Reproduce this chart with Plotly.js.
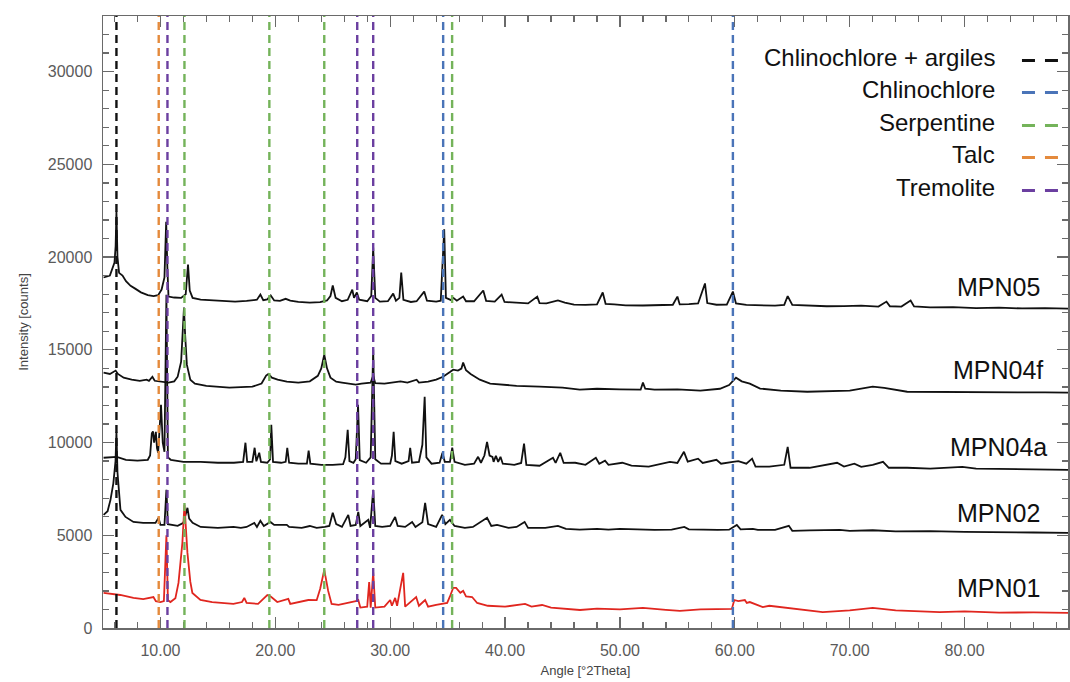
<!DOCTYPE html>
<html>
<head>
<meta charset="utf-8">
<script src="https://cdn.plot.ly/plotly-3.0.1.min.js"></script>
<style>html,body{margin:0;padding:0;background:#fff;}#chart{width:1070px;height:682px;}</style>
</head>
<body>
<div id="chart"></div>
<script>
// ---- data (angle in °2Theta, intensity in counts) ----
const sampleNames = ['MPN05', 'MPN04f', 'MPN04a', 'MPN02', 'MPN01'];

const mpn05X = [5.05,5.6,6.0,6.1,6.17,6.26,6.4,6.7,7.0,7.4,7.8,8.3,8.9,9.4,9.8,10.1,10.35,10.5,10.6,10.7,11.2,11.8,12.2,12.4,12.55,12.8,13.5,14.5,15.5,16.5,17.5,18.4,18.7,18.95,19.3,19.6,19.9,20.4,20.9,21.3,22.0,23.0,23.9,24.5,24.8,25.0,25.25,25.8,26.3,26.7,26.85,27.1,27.3,28.0,28.35,28.52,28.7,29.1,29.8,30.26,30.5,30.8,30.96,31.15,31.8,32.3,32.96,33.2,34.0,34.4,34.7,34.85,35.3,35.5,35.8,36.35,36.6,37.3,38.1,38.35,39.1,39.7,39.95,40.6,41.5,42.0,42.8,43.0,43.6,44.6,45.2,46.0,47.0,48.0,48.5,48.75,49.5,50.5,52.0,53.5,54.6,55.0,55.2,56.0,56.8,57.4,57.6,58.4,59.3,59.83,60.1,61.0,62.0,63.5,64.3,64.6,65.0,66.5,68.0,69.5,71.0,72.5,73.2,73.5,74.5,75.3,75.6,77.0,79.0,81.0,83.0,85.0,87.0,89.1];
const mpn05Y = [18900,19000,19700,20600,22460,20000,19150,19000,18700,18450,18300,18100,17950,17900,17950,18250,18900,21900,19500,17870,17820,17800,18000,19600,18200,17800,17710,17660,17620,17600,17640,17700,17980,17680,17720,17930,17660,17640,17750,17650,17580,17550,17570,17660,17900,18470,17800,17620,17700,18240,17800,18090,17700,17620,17900,20520,17800,17600,17620,18030,17650,17800,19170,17700,17580,17620,18140,17650,17600,17650,21500,17800,17680,17800,17650,17870,17620,17620,18200,17640,17600,17980,17580,17560,17550,17500,17870,17520,17500,17660,17550,17440,17420,17450,18090,17480,17450,17400,17390,17420,17430,17870,17450,17460,17500,18580,17520,17430,17440,18140,17500,17420,17400,17380,17420,17900,17420,17370,17350,17360,17380,17330,17600,17350,17330,17660,17340,17290,17300,17250,17270,17230,17250,17220];

const mpn04fX = [5.05,5.6,6.1,6.3,6.8,7.5,8.2,8.8,9.0,9.3,9.5,10.0,10.7,11.2,11.5,11.8,11.95,12.05,12.15,12.3,12.6,13.0,14.0,15.0,16.0,17.0,18.0,18.8,19.2,19.4,19.7,20.2,21.0,22.0,23.0,23.7,24.0,24.26,24.5,24.8,25.3,25.8,26.3,27.0,27.5,28.3,28.52,28.7,29.5,30.2,30.9,31.5,32.3,32.5,33.3,34.0,34.6,35.2,35.48,35.9,36.2,36.35,36.6,37.0,37.8,38.7,39.6,41.0,43.0,45.0,46.5,48.0,50.0,51.8,52.0,52.2,53.0,55.0,57.0,58.7,59.5,60.1,60.6,61.3,62.2,64.0,66.3,68.0,70.0,72.0,73.0,75.0,78.0,81.0,84.0,87.0,89.1];
const mpn04fY = [13770,13700,13880,13700,13500,13390,13330,13390,13330,13550,13330,13280,13230,13300,13550,14360,15800,17280,15800,14200,13390,13180,13060,13010,12960,12990,13010,13180,13610,13700,13500,13390,13280,13230,13300,13600,14000,14740,14000,13500,13280,13230,13180,13120,13180,13230,13600,13200,13180,13230,13300,13230,13390,13230,13280,13390,13550,13800,13930,13880,13990,14310,13900,13700,13390,13180,13120,13060,13010,12960,12850,12900,12870,12850,13230,12900,12850,12870,12800,12900,13100,13500,13300,13180,12910,12800,12740,12760,12800,13010,12950,12740,12720,12700,12690,12700,12690];

const mpn04aX = [5.05,5.6,6.2,7.0,8.0,8.9,9.1,9.25,9.35,9.45,9.6,9.7,9.8,9.95,10.05,10.2,10.35,10.52,10.65,10.9,12.0,13.5,15.0,16.4,17.2,17.4,17.55,18.0,18.2,18.35,18.6,18.75,19.3,19.55,19.65,19.8,20.5,20.9,21.04,21.2,22.0,22.75,22.9,23.05,24.0,25.0,25.9,26.1,26.3,26.45,26.8,27.0,27.2,27.35,27.9,28.3,28.52,28.7,29.2,30.0,30.15,30.3,30.45,31.0,31.6,31.74,31.9,32.5,32.8,33.0,33.15,33.6,34.3,34.55,34.75,35.2,35.4,35.6,36.5,37.3,37.65,37.9,38.2,38.43,38.65,38.9,39.0,39.2,39.4,39.6,39.8,40.8,41.4,41.65,41.85,43.0,44.17,44.4,44.8,45.1,46.1,47.0,47.9,48.2,48.7,49.0,50.2,51.0,52.5,54.35,55.0,55.57,55.9,56.8,57.2,58.4,58.8,59.83,60.3,61.0,61.5,61.8,63.0,64.3,64.6,64.85,66.5,68.9,69.5,70.4,71.0,72.0,72.9,73.4,75.0,77.0,79.8,81.0,84.0,87.0,89.1];
const mpn04aY = [9180,9200,9230,9070,9020,9070,9300,10500,10600,10000,10580,9700,9450,11000,12040,10000,9500,17970,9200,9070,8960,8960,8910,8910,8960,9990,8960,8960,9720,8990,9450,8960,8910,9100,10960,8960,8910,8960,9720,8910,8860,8860,9560,8860,8800,8800,8830,9200,10690,9000,8910,9100,12040,9050,8910,9200,15010,9100,8860,8860,9300,10580,9000,8860,9000,9720,8910,8960,9880,12470,9200,8860,8910,9450,8960,8960,9720,8960,8800,8860,9230,8910,9300,10040,9300,9230,8960,9280,8960,9230,8860,8800,8900,9940,8800,8750,9180,8900,9450,8900,8910,8800,9180,8860,9020,8800,8910,8750,8700,8960,8900,9500,8970,9130,8900,9070,8860,8960,9000,8860,9130,8700,8700,8800,9770,8640,8640,8910,8700,8860,8690,8800,8960,8640,8640,8590,8690,8590,8560,8530,8530];

const mpn02X = [5.05,5.4,5.65,5.9,6.09,6.17,6.26,6.4,6.52,6.96,7.65,8.5,9.57,9.83,10.0,10.35,10.52,10.65,11.0,11.5,12.0,12.35,12.5,12.8,13.5,15.0,16.35,17.0,17.5,18.17,18.4,18.7,19.0,19.57,19.9,21.0,21.2,22.3,23.0,23.6,24.3,24.7,25.0,25.3,25.8,26.35,26.55,27.0,27.22,27.4,28.09,28.25,28.52,28.7,29.3,30.0,30.43,30.65,31.3,31.91,32.2,32.8,33.04,33.3,34.0,34.52,34.8,35.2,35.6,36.5,37.2,37.8,38.43,38.8,39.3,40.3,41.0,41.7,42.0,43.5,44.6,45.3,46.5,48.0,49.0,50.0,51.5,53.0,54.5,55.6,56.0,57.0,58.5,59.5,60.17,60.5,61.57,62.0,63.5,64.7,65.0,66.5,69.13,70.0,72.0,74.0,77.0,80.0,83.0,86.0,89.1];
const mpn02Y = [6100,6300,6910,7800,9000,10580,8400,7000,6370,5990,5720,5670,5670,5940,5560,5560,7450,5600,5560,5510,5670,6480,5900,5670,5450,5400,5450,5400,5450,5670,5450,5780,5500,5720,5560,5560,5450,5400,5500,5400,5450,5500,6210,5600,5450,6100,5500,5560,6260,5500,5830,5400,7450,5500,5450,5500,5990,5500,5450,5720,5450,5700,6750,5600,5450,6100,5600,5830,5500,5400,5450,5700,5940,5500,5560,5400,5450,5720,5400,5400,5510,5350,5300,5350,5300,5350,5300,5290,5300,5450,5320,5300,5290,5300,5560,5320,5350,5290,5290,5510,5240,5260,5290,5240,5270,5210,5220,5180,5150,5150,5130];

const mpn01X = [5.05,5.6,6.5,7.65,8.5,9.39,9.6,10.0,10.3,10.52,10.65,10.87,11.3,11.57,11.91,12.09,12.35,12.6,12.78,13.48,14.5,16.35,17.1,17.3,17.5,18.5,19.3,19.6,20.17,21.13,21.3,22.87,23.6,23.9,24.26,24.6,24.9,25.5,26.35,27.0,27.22,27.4,28.0,28.17,28.3,28.52,28.7,29.5,30.0,30.15,30.43,30.6,31.13,31.3,32.26,32.5,33.04,33.3,34.0,34.96,35.2,35.48,35.74,35.91,36.1,36.35,36.6,37.13,37.57,38.5,40.0,41.74,42.3,43.22,44.0,46.52,48.0,50.0,52.0,54.0,55.22,57.0,59.74,59.95,60.3,60.87,61.04,61.3,62.43,63.0,64.78,66.0,67.65,70.0,72.0,74.0,77.83,80.0,83.0,86.0,89.1];
const mpn01Y = [1890,1840,1780,1620,1560,1670,1450,1400,1450,5000,1500,1400,1600,2430,4590,6640,4050,2500,1890,1510,1400,1300,1400,1620,1350,1300,1780,1700,1400,1570,1300,1510,1500,2100,3130,2000,1300,1250,1350,1450,1510,1100,1150,2480,1100,3000,1100,1150,1510,1200,1620,1200,2970,1150,1670,1200,1510,1150,1250,1350,1700,2160,2160,2050,1900,2000,1700,1670,1350,1200,1150,1300,1150,1240,1100,970,1050,1000,1080,980,920,1000,1030,1510,1450,1510,1350,1400,1130,1200,1080,1000,860,950,1080,950,860,900,830,840,810];

// reference lines (°2Theta)
const phaseNames = ['Chlinochlore + argiles', 'Chlinochlore', 'Serpentine', 'Talc', 'Tremolite'];
const chlinoArgilesLines = [6.17];
const chlinochloreLines = [34.61, 59.83];
const serpentineLines = [12.09, 19.48, 24.26, 35.39];
const talcLines = [9.85];
const tremoliteLines = [10.61, 27.13, 28.52];

// ---- styling ----
const phaseColors = ['#111111', '#4a74b8', '#74b35a', '#e48a3c', '#6b3fa0'];
const phaseLines = [chlinoArgilesLines, chlinochloreLines, serpentineLines, talcLines, tremoliteLines];

const traceColors = ['#111111', '#111111', '#111111', '#111111', '#e0261f'];
const seriesX = [mpn05X, mpn04fX, mpn04aX, mpn02X, mpn01X];
const seriesY = [mpn05Y, mpn04fY, mpn04aY, mpn02Y, mpn01Y];

const traces = seriesX.map((xs, i) => ({
  type: 'scatter', mode: 'lines', x: xs, y: seriesY[i], name: sampleNames[i],
  line: {color: traceColors[i], width: 1.8}, hoverinfo: 'skip'
}));

const shapes = [];
phaseLines.forEach((arr, i) => {
  arr.forEach(v => shapes.push({
    type: 'line', xref: 'x', yref: 'paper', x0: v, x1: v, y0: 0, y1: 1, layer: 'above',
    line: {color: phaseColors[i], width: 2.4, dash: '8px,5px'}
  }));
});

const annotations = [];
const legendYs = [0.9314, 0.8791, 0.8252, 0.7729, 0.7190];
phaseNames.forEach((n, i) => {
  annotations.push({xref: 'paper', yref: 'paper', x: 0.9264, y: legendYs[i], xanchor: 'right', yanchor: 'middle',
    text: n, showarrow: false, font: {family: 'Liberation Sans, Arial, sans-serif', size: 24, color: '#111'}});
  shapes.push({type: 'line', xref: 'paper', yref: 'paper', x0: 0.9523, x1: 0.9896, y0: legendYs[i] - 0.004, y1: legendYs[i] - 0.004,
    line: {color: phaseColors[i], width: 3, dash: '13px,10px'}});
});

const labelYs = [0.5572, 0.4216, 0.2958, 0.1879, 0.0654];
sampleNames.forEach((n, i) => {
  annotations.push({xref: 'paper', yref: 'paper', x: 0.9275, y: labelYs[i], xanchor: 'center', yanchor: 'middle',
    text: n, showarrow: false, font: {family: 'Liberation Sans, Arial, sans-serif', size: 25, color: '#111'}});
});

const axisFont = {family: 'Liberation Sans, Arial, sans-serif', size: 16, color: '#5a5a5a'};

const layout = {
  width: 1070, height: 682,
  margin: {l: 103, r: 2, t: 16, b: 54},
  paper_bgcolor: '#fff', plot_bgcolor: '#fff',
  showlegend: false,
  xaxis: {
    range: [5, 89], showgrid: false, zeroline: false,
    showline: true, linecolor: '#6a6a6a', linewidth: 1.5, mirror: 'ticks',
    ticks: 'inside', ticklen: 11, tickwidth: 1.3, tickcolor: '#6a6a6a',
    tick0: 0, dtick: 10, tickformat: '.2f', tickfont: axisFont, ticklabelstandoff: 7,
    minor: {ticks: 'inside', ticklen: 6, dtick: 2, tickcolor: '#6a6a6a', tickwidth: 1.2},
    title: {text: 'Angle [°2Theta]', font: {family: 'Liberation Sans, Arial, sans-serif', size: 13, color: '#444'}, standoff: 8}
  },
  yaxis: {
    range: [0, 33000], showgrid: false, zeroline: false,
    showline: true, linecolor: '#6a6a6a', linewidth: 1.5, mirror: 'ticks',
    ticks: 'inside', ticklen: 11, tickwidth: 1.3, tickcolor: '#6a6a6a',
    tick0: 0, dtick: 5000, tickformat: 'd', tickfont: axisFont, ticklabelstandoff: 6,
    minor: {ticks: 'inside', ticklen: 6, dtick: 1000, tickcolor: '#6a6a6a', tickwidth: 1.2},
    title: {text: 'Intensity [counts]', font: {family: 'Liberation Sans, Arial, sans-serif', size: 13, color: '#444'}, standoff: 16}
  },
  shapes: shapes,
  annotations: annotations
};

Plotly.newPlot('chart', traces, layout, {displayModeBar: false, staticPlot: true});
</script>
</body>
</html>
